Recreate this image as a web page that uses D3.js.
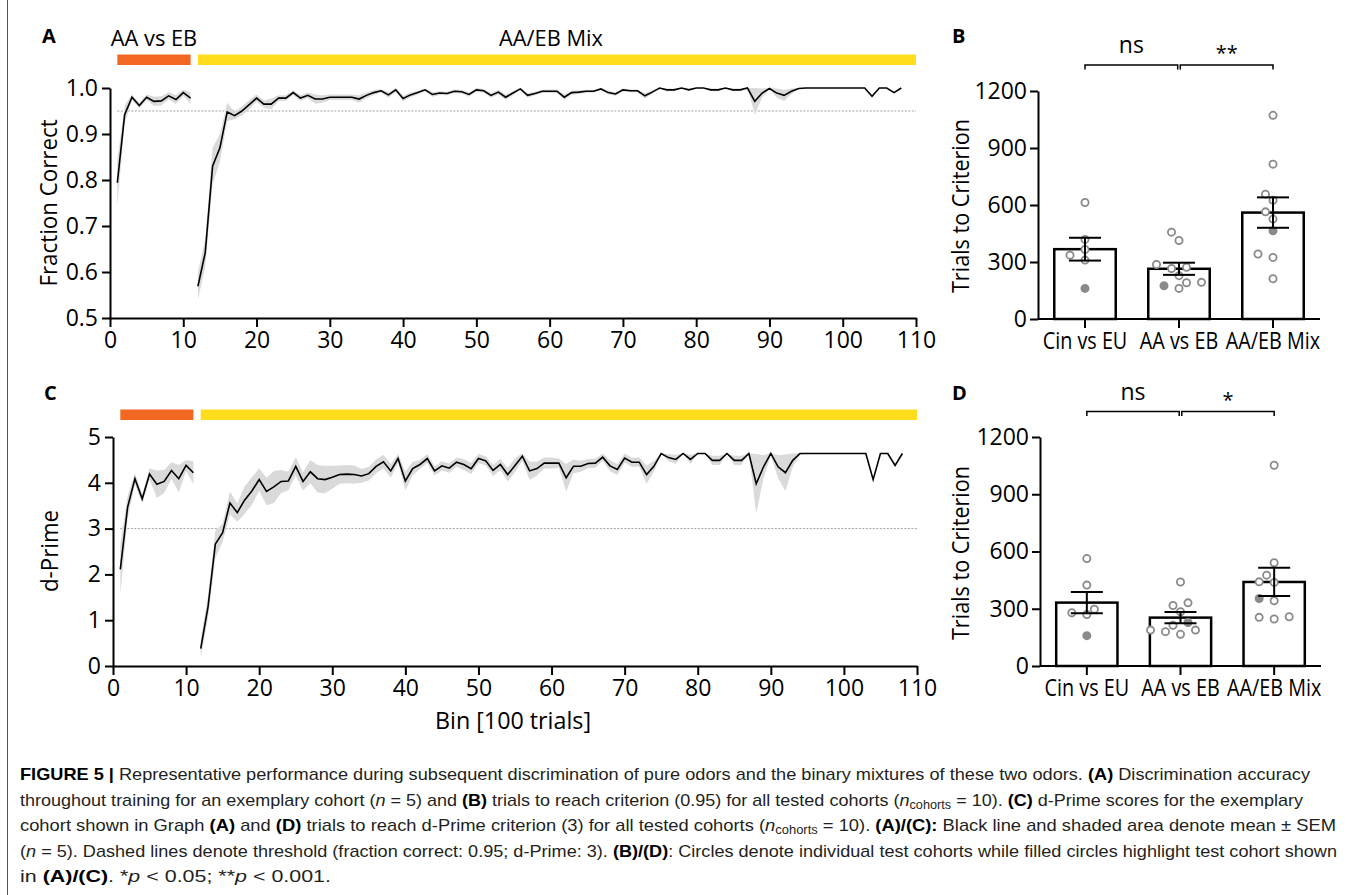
<!DOCTYPE html>
<html lang="en">
<head>
<meta charset="UTF-8" />
<title>Figure 5</title>
<style>
  body { margin: 0; background: #fff; }
  svg { display: block; font-family: "Open Sans", sans-serif; }
  .axis path, .axis line { stroke: #000; stroke-width: 2; }
  .axis text { font-family: "Open Sans", sans-serif; font-size: 23px; fill: #000; }
  .letter { font-family: "Open Sans", sans-serif; font-weight: 700; font-size: 20px; }
  .title { font-size: 24px; }
  .caption { font-family: "Liberation Sans", Arial, sans-serif; font-size: 17px; fill: #231f20; }
  .caption .b { font-weight: 700; fill: #000; }
</style>
</head>
<body>
<svg width="1355" height="895"></svg>
<script src="https://d3js.org/d3.v7.min.js"></script>
<script>
// ---- data ----
const phaseNames = ["AA vs EB", "AA/EB Mix"];
const phaseFirstBin = [1, 12];
const phaseLastBin = [11, 110];
const xTicks = [0, 10, 20, 30, 40, 50, 60, 70, 80, 90, 100, 110];

// fraction correct, bins 1-11 and 12-108
const fcMean1 = [0.794, 0.942, 0.98, 0.962, 0.98, 0.971, 0.972, 0.983, 0.975, 0.99, 0.978];
const fcSem1 = [0.05, 0.02, 0.006, 0.006, 0.006, 0.01, 0.01, 0.008, 0.01, 0.007, 0.012];
const fcMean2 = [
  0.569, 0.642, 0.83, 0.87, 0.948, 0.94, 0.95, 0.964, 0.978, 0.965,
  0.965, 0.978, 0.978, 0.99, 0.978, 0.984, 0.976, 0.976, 0.98, 0.98,
  0.98, 0.98, 0.976, 0.984, 0.99, 0.994, 0.985, 0.996, 0.977, 0.985,
  0.99, 0.996, 0.986, 0.989, 0.988, 0.993, 0.992, 0.986, 0.996, 0.994,
  0.984, 0.991, 0.98, 0.989, 0.998, 0.984, 0.988, 0.993, 0.993, 0.993,
  0.98, 0.99, 0.991, 0.993, 0.993, 0.998, 0.99, 0.987, 0.996, 0.994,
  0.994, 0.983, 0.991, 1.0, 0.996, 0.996, 1.0, 0.996, 1.0, 1.0,
  0.996, 0.996, 1.0, 0.996, 0.996, 1.0, 0.971, 0.989, 0.999, 0.989,
  0.984, 0.993, 0.999, 1.0, 1.0, 1.0, 1.0, 1.0, 1.0, 1.0,
  1.0, 1.0, 0.982, 1.0, 1.0, 0.99, 1.0
];
const fcSem2 = [
  0.03, 0.03, 0.04, 0.03, 0.02, 0.008, 0.01, 0.01, 0.008, 0.008,
  0.012, 0.006, 0.006, 0.005, 0.006, 0.006, 0.01, 0.008, 0.006, 0.006,
  0.006, 0.006, 0.008, 0.006, 0.005, 0.004, 0.006, 0.004, 0.006, 0.005,
  0.004, 0.003, 0.005, 0.004, 0.004, 0.004, 0.004, 0.005, 0.004, 0.004,
  0.005, 0.005, 0.006, 0.004, 0.002, 0.005, 0.004, 0.004, 0.004, 0.004,
  0.006, 0.004, 0.004, 0.003, 0.003, 0.002, 0.004, 0.004, 0.003, 0.003,
  0.003, 0.006, 0.004, 0.0, 0.003, 0.003, 0.0, 0.003, 0.0, 0.0,
  0.003, 0.003, 0.0, 0.003, 0.003, 0.0, 0.029, 0.01, 0.001, 0.01,
  0.012, 0.006, 0.001, 0, 0, 0, 0, 0, 0, 0,
  0, 0, 0, 0, 0, 0, 0
];

// d-prime, bins 1-11 and 12-108
const dpMean1 = [2.11, 3.47, 4.09, 3.65, 4.19, 3.97, 4.03, 4.27, 4.09, 4.38, 4.22];
const dpSem1 = [0.55, 0.25, 0.12, 0.1, 0.12, 0.3, 0.25, 0.18, 0.3, 0.12, 0.25];
const dpMean2 = [
  0.38, 1.29, 2.66, 2.91, 3.56, 3.35, 3.62, 3.82, 4.07, 3.81,
  3.91, 4.03, 4.04, 4.36, 4.03, 4.24, 4.09, 4.07, 4.12, 4.18,
  4.19, 4.18, 4.15, 4.2, 4.36, 4.46, 4.26, 4.53, 4.04, 4.31,
  4.40, 4.53, 4.26, 4.37, 4.32, 4.45, 4.40, 4.31, 4.53, 4.48,
  4.27, 4.40, 4.18, 4.38, 4.58, 4.26, 4.31, 4.43, 4.43, 4.43,
  4.11, 4.36, 4.36, 4.42, 4.43, 4.56, 4.37, 4.29, 4.54, 4.45,
  4.45, 4.18, 4.36, 4.64, 4.55, 4.51, 4.64, 4.51, 4.64, 4.64,
  4.49, 4.49, 4.64, 4.49, 4.49, 4.64, 3.98, 4.35, 4.64, 4.35,
  4.22, 4.49, 4.64, 4.64, 4.64, 4.64, 4.64, 4.64, 4.64, 4.64,
  4.64, 4.64, 4.07, 4.64, 4.64, 4.38, 4.64
];
const dpSem2 = [
  0.2, 0.25, 0.3, 0.2, 0.25, 0.2, 0.3, 0.3, 0.25, 0.3,
  0.35, 0.25, 0.2, 0.2, 0.2, 0.25, 0.3, 0.3, 0.25, 0.2,
  0.2, 0.2, 0.15, 0.15, 0.15, 0.15, 0.15, 0.1, 0.2, 0.15,
  0.1, 0.1, 0.1, 0.1, 0.1, 0.1, 0.12, 0.12, 0.1, 0.1,
  0.12, 0.12, 0.15, 0.15, 0.1, 0.2, 0.15, 0.12, 0.12, 0.1,
  0.3, 0.15, 0.12, 0.1, 0.1, 0.08, 0.12, 0.12, 0.1, 0.1,
  0.1, 0.2, 0.12, 0.0, 0.08, 0.1, 0.0, 0.1, 0.0, 0.0,
  0.1, 0.1, 0.0, 0.1, 0.1, 0.0, 0.65, 0.25, 0.05, 0.25,
  0.4, 0.15, 0.03, 0, 0, 0, 0, 0, 0, 0,
  0, 0, 0, 0, 0, 0, 0
];

// trials to criterion per cohort
const groups = ["Cin vs EU", "AA vs EB", "AA/EB Mix"];
const trialsFC = [
  [613, 419, 336, 366, 310, 161],
  [457, 413, 272, 287, 266, 228, 161, 193, 175, 191],
  [1072, 815, 657, 625, 564, 526, 464, 342, 324, 212]
];
const semFC = [60, 32, 80];
const highlightFC = [5, 8, 6];
const sigFC = ["ns", "**"];

const trialsDP = [
  [563, 424, 298, 270, 279, 159],
  [440, 331, 317, 284, 228, 213, 188, 180, 166, 188],
  [1052, 541, 476, 438, 441, 354, 342, 246, 258, 255]
];
const semDP = [56, 29, 74];
const highlightDP = [5, 4, 5];
const sigDP = ["ns", "*"];
const barTicks = [0, 300, 600, 900, 1200];

// ---- drawing ----
const svg = d3.select("svg");
const phaseColors = ["#f26722", "#ffdd1c"];

function condense(sel, k) {
  sel.each(function () {
    const w = this.getComputedTextLength();
    this.setAttribute("textLength", w * k);
    this.setAttribute("lengthAdjust", "spacingAndGlyphs");
  });
}

function tracePanel(o) {
  const g = svg.append("g");
  const x = d3.scaleLinear().domain([0, 110]).range(o.xRange);
  const y = d3.scaleLinear().domain(o.yDomain).range(o.yRange);

  g.selectAll("rect.phase")
    .data(phaseNames)
    .join("rect")
    .attr("x", (d, i) => x(phaseFirstBin[i]))
    .attr("width", (d, i) => x(phaseLastBin[i]) - x(phaseFirstBin[i]))
    .attr("y", o.barY)
    .attr("height", 10.5)
    .attr("fill", (d, i) => phaseColors[i]);

  if (o.phaseLabels) {
    g.selectAll("text.phase")
      .data(phaseNames)
      .join("text")
      .attr("x", (d, i) => (x(phaseFirstBin[i]) + x(phaseLastBin[i])) / 2 - (i ? 6 : 0))
      .attr("y", o.barY - 8.5)
      .attr("text-anchor", "middle")
      .attr("font-size", 22.5)
      .text((d) => d)
      .call(condense, 0.97);
  }

  g.append("line")
    .attr("x1", x(1)).attr("x2", x(110))
    .attr("y1", y(o.threshold)).attr("y2", y(o.threshold))
    .attr("stroke", "#a0a0a0")
    .attr("stroke-width", 1)
    .attr("stroke-dasharray", "2,1.5");

  o.segments.forEach((seg) => {
    const pts = seg.mean.map((m, i) => ({ bin: seg.first + i, mean: m, sem: seg.sem[i] }));
    g.append("path")
      .datum(pts)
      .attr("fill", "#dadada")
      .attr("d", d3.area()
        .x((d) => x(d.bin))
        .y0((d) => y(d.mean - d.sem))
        .y1((d) => y(Math.min(o.cap, d.mean + d.sem))));
    g.append("path")
      .datum(pts)
      .attr("fill", "none")
      .attr("stroke", "#000")
      .attr("stroke-width", 1.6)
      .attr("d", d3.line().x((d) => x(d.bin)).y((d) => y(d.mean)));
  });

  g.append("g")
    .attr("class", "axis")
    .attr("transform", `translate(0,${o.yRange[0]})`)
    .call(d3.axisBottom(x).tickValues(xTicks).tickSize(9).tickSizeOuter(0).tickPadding(5));
  g.append("g")
    .attr("class", "axis")
    .attr("transform", `translate(${o.xRange[0]},0)`)
    .call(d3.axisLeft(y).tickValues(o.yTicks).tickFormat(o.fmt).tickSize(8).tickSizeOuter(0).tickPadding(4));

  g.append("text")
    .attr("class", "title")
    .attr("transform", `translate(${o.titleX},${o.titleY}) rotate(-90)`)
    .attr("text-anchor", "middle")
    .attr("dy", "0.35em")
    .text(o.title)
    .call(condense, o.titleK);

  g.append("text").attr("class", "letter").attr("x", o.letterX).attr("y", o.letterY).text(o.letter);
  return { x, y };
}

function swarm(vals, y, step, minDist) {
  const order = d3.range(vals.length).sort((a, b) => vals[a] - vals[b]);
  const placed = [];
  const off = new Array(vals.length).fill(0);
  const cands = [0, -1, 1, -2, 2, -3, 3, -4, 4];
  order.forEach((i) => {
    const py = y(vals[i]);
    for (const c of cands) {
      const px = c * step;
      if (placed.every((p) => Math.hypot(p.x - px, p.y - py) >= minDist)) {
        off[i] = px;
        placed.push({ x: px, y: py });
        break;
      }
    }
  });
  return off;
}

function barPanel(o) {
  const g = svg.append("g");
  const x = d3.scaleBand().domain(groups).range(o.xRange).paddingInner(0.346).paddingOuter(0.173);
  const y = d3.scaleLinear().domain([0, 1200]).range(o.yRange);
  const bw = x.bandwidth();
  const cx = (d) => x(d) + bw / 2;
  const means = o.values.map((v) => d3.mean(v));

  g.selectAll("rect.bar")
    .data(groups)
    .join("rect")
    .attr("x", (d) => x(d))
    .attr("y", (d, i) => y(means[i]))
    .attr("width", bw)
    .attr("height", (d, i) => y(0) - y(means[i]))
    .attr("fill", "#fff")
    .attr("stroke", "#000")
    .attr("stroke-width", 2.5);

  groups.forEach((grp, gi) => {
    const off = swarm(o.values[gi], y, 7.5, 9);
    g.selectAll(null)
      .data(o.values[gi])
      .join("circle")
      .attr("cx", (d, i) => cx(grp) + off[i])
      .attr("cy", (d) => y(d))
      .attr("r", 3.6)
      .attr("fill", (d, i) => (i === o.highlight[gi] ? "#8a8a8a" : "#fff"))
      .attr("stroke", "#8a8a8a")
      .attr("stroke-width", 1.8);

    const lo = y(means[gi] - o.sem[gi]);
    const hi = y(means[gi] + o.sem[gi]);
    const eb = g.append("g").attr("stroke", "#000").attr("stroke-width", 2);
    eb.append("line").attr("x1", cx(grp)).attr("x2", cx(grp)).attr("y1", lo).attr("y2", hi);
    [lo, hi].forEach((yy) =>
      eb.append("line").attr("x1", cx(grp) - 16).attr("x2", cx(grp) + 16).attr("y1", yy).attr("y2", yy));
  });

  const xa = g.append("g")
    .attr("class", "axis")
    .attr("transform", `translate(0,${o.yRange[0]})`)
    .call(d3.axisBottom(x).tickSize(9).tickSizeOuter(0).tickPadding(5));
  xa.select(".domain").attr("d", `M${o.xRange[0]},0H${o.xRange[1]}`);
  xa.selectAll("text").call(condense, 0.86);

  g.append("g")
    .attr("class", "axis")
    .attr("transform", `translate(${o.xRange[0]},0)`)
    .call(d3.axisLeft(y).tickValues(barTicks).tickFormat(d3.format("d")).tickSize(8).tickSizeOuter(0).tickPadding(3));

  o.sig.forEach((lab, i) => {
    const x1 = cx(groups[i]) + (i > 0 ? 1.3 : 0);
    const x2 = cx(groups[i + 1]) - (i < o.sig.length - 1 ? 1.3 : 0);
    g.append("path")
      .attr("d", `M${x1},${o.bracketY + 4.5}V${o.bracketY}H${x2}V${o.bracketY + 4.5}`)
      .attr("fill", "none")
      .attr("stroke", "#000")
      .attr("stroke-width", 1.5);
    const star = lab.includes("*");
    g.append("text")
      .attr("x", (x1 + x2) / 2)
      .attr("y", o.bracketY - (star ? 5 : 12))
      .attr("text-anchor", "middle")
      .attr("font-size", star ? 20 : 23)
      .text(lab);
  });

  g.append("text")
    .attr("class", "title")
    .attr("transform", `translate(${o.titleX},${o.titleY}) rotate(-90)`)
    .attr("text-anchor", "middle")
    .attr("dy", "0.35em")
    .text("Trials to Criterion")
    .call(condense, 0.9);

  g.append("text").attr("class", "letter").attr("x", o.letterX).attr("y", o.letterY).text(o.letter);
}

// frame
svg.append("line").attr("x1", 7.5).attr("x2", 7.5).attr("y1", 0).attr("y2", 895)
  .attr("stroke", "#555").attr("stroke-width", 1);

tracePanel({
  xRange: [110, 916], yRange: [318, 88], yDomain: [0.5, 1.0],
  yTicks: [0.5, 0.6, 0.7, 0.8, 0.9, 1.0], fmt: d3.format(".1f"),
  barY: 54.5, phaseLabels: true, threshold: 0.95, cap: 1.0,
  segments: [
    { first: phaseFirstBin[0], mean: fcMean1, sem: fcSem1 },
    { first: phaseFirstBin[1], mean: fcMean2, sem: fcSem2 }
  ],
  title: "Fraction Correct", titleX: 49, titleY: 203, titleK: 0.93,
  letter: "A", letterX: 42, letterY: 43
});

tracePanel({
  xRange: [113, 917], yRange: [666, 437], yDomain: [0, 5],
  yTicks: [0, 1, 2, 3, 4, 5], fmt: d3.format("d"),
  barY: 409.5, phaseLabels: false, threshold: 3, cap: 4.65,
  segments: [
    { first: phaseFirstBin[0], mean: dpMean1, sem: dpSem1 },
    { first: phaseFirstBin[1], mean: dpMean2, sem: dpSem2 }
  ],
  title: "d-Prime", titleX: 50, titleY: 551, titleK: 0.93,
  letter: "C", letterX: 44, letterY: 400
});

svg.append("text")
  .attr("class", "title")
  .attr("x", 513).attr("y", 729)
  .attr("text-anchor", "middle")
  .attr("font-size", 23)
  .text("Bin [100 trials]")
  .call(condense, 0.97);

barPanel({
  xRange: [1038, 1320], yRange: [319, 91], values: trialsFC, sem: semFC,
  highlight: highlightFC, sig: sigFC, bracketY: 65,
  titleX: 961, titleY: 206, letter: "B", letterX: 952, letterY: 43
});

barPanel({
  xRange: [1040, 1321], yRange: [666, 437], values: trialsDP, sem: semDP,
  highlight: highlightDP, sig: sigDP, bracketY: 411.5,
  titleX: 961, titleY: 553, letter: "D", letterX: 952, letterY: 400
});

// caption
const captionLines = [
  [["b", "FIGURE 5 |"], ["", " Representative performance during subsequent discrimination of pure odors and the binary mixtures of these two odors. "], ["b", "(A)"], ["", " Discrimination accuracy"]],
  [["", "throughout training for an exemplary cohort ("], ["i", "n"], ["", " = 5) and "], ["b", "(B)"], ["", " trials to reach criterion (0.95) for all tested cohorts ("], ["i", "n"], ["sub", "cohorts"], ["", " = 10). "], ["b", "(C)"], ["", " d-Prime scores for the exemplary"]],
  [["", "cohort shown in Graph "], ["b", "(A)"], ["", " and "], ["b", "(D)"], ["", " trials to reach d-Prime criterion (3) for all tested cohorts ("], ["i", "n"], ["sub", "cohorts"], ["", " = 10). "], ["b", "(A)/(C):"], ["", " Black line and shaded area denote mean \u00b1 SEM"]],
  [["", "("], ["i", "n"], ["", " = 5). Dashed lines denote threshold (fraction correct: 0.95; d-Prime: 3). "], ["b", "(B)/(D)"], ["", ": Circles denote individual test cohorts while filled circles highlight test cohort shown"]],
  [["", "in "], ["b", "(A)/(C)"], ["", ". *"], ["i", "p"], ["", " < 0.05; **"], ["i", "p"], ["", " < 0.001."]]
];
const captionEnds = [1310, 1303, 1336, 1337, 331];
const captionBase = [780, 805.5, 831, 856.5, 882];

captionLines.forEach((parts, li) => {
  const t = svg.append("text").attr("class", "caption").attr("x", 20).attr("y", captionBase[li]);
  parts.forEach(([kind, s]) => {
    const ts = t.append("tspan").text(s);
    if (kind === "b") ts.attr("class", "b");
    if (kind === "i") ts.attr("font-style", "italic");
    if (kind === "sub") ts.attr("font-size", 12).attr("baseline-shift", "-3");
  });
  t.attr("textLength", captionEnds[li] - 20).attr("lengthAdjust", "spacingAndGlyphs");
});
</script>
</body>
</html>
